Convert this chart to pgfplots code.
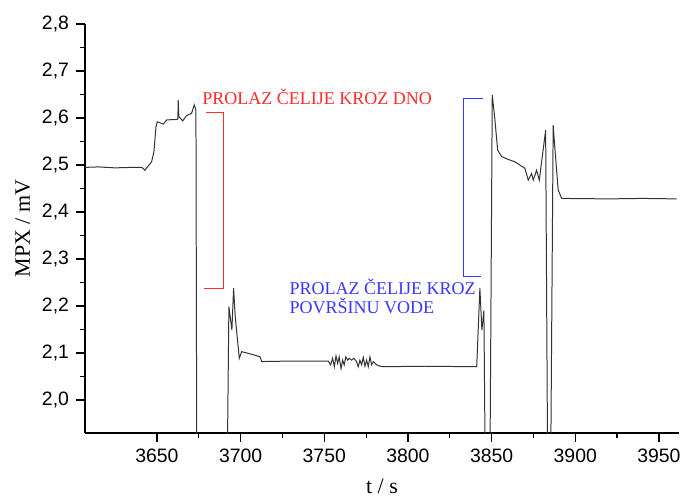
\documentclass[border=0pt]{standalone}
\usepackage{fontspec}
\setmainfont{Liberation Serif}
\setsansfont{Liberation Sans}
\usepackage{pgfplots}
\pgfplotsset{compat=1.18}
\definecolor{annred}{RGB}{255,45,45}
\definecolor{annblue}{RGB}{55,55,255}

\pgfplotstableread{
t mpx
3607.0 2.495
3615.0 2.496
3625.0 2.494
3635.0 2.495
3641.0 2.495
3642.8 2.489
3646.8 2.507
3648.2 2.528
3649.4 2.581
3650.2 2.592
3651.8 2.590
3653.8 2.587
3655.8 2.596
3661.8 2.597
3662.5 2.598
3662.7 2.638
3663.1 2.603
3665.4 2.594
3667.7 2.605
3670.7 2.610
3672.3 2.628
3673.3 2.617
3673.8 1.850
3692.0 1.850
3693.0 2.199
3694.8 2.149
3695.8 2.238
3696.8 2.177
3699.2 2.089
3700.6 2.103
3705.0 2.099
3708.0 2.096
3711.6 2.092
3712.6 2.082
3730.0 2.083
3752.4 2.083
3753.8 2.075
3755.0 2.089
3756.0 2.071
3757.0 2.094
3758.0 2.078
3758.9 2.092
3760.0 2.067
3761.0 2.085
3761.9 2.075
3762.9 2.092
3764.0 2.085
3764.9 2.089
3766.3 2.085
3767.7 2.089
3769.3 2.082
3770.3 2.071
3771.3 2.085
3772.3 2.075
3773.3 2.091
3774.3 2.072
3775.3 2.085
3776.3 2.071
3777.3 2.092
3778.3 2.075
3779.3 2.082
3781.3 2.075
3784.3 2.071
3810.0 2.072
3841.1 2.071
3843.0 2.238
3844.2 2.149
3845.4 2.191
3846.2 1.850
3849.0 1.850
3850.4 2.649
3852.0 2.596
3853.6 2.532
3856.0 2.518
3859.9 2.512
3863.9 2.507
3866.9 2.500
3869.9 2.493
3871.9 2.468
3873.9 2.482
3874.9 2.468
3876.9 2.489
3878.5 2.468
3882.3 2.574
3883.5 1.850
3885.3 1.850
3886.8 2.585
3887.9 2.532
3889.8 2.447
3891.9 2.429
3920.0 2.428
3940.0 2.429
3960.6 2.428
}\mpxdata

\begin{document}
\begin{tikzpicture}
\useasboundingbox (-42.5bp,-31.5bp) rectangle (298.5bp,216.5bp);
\begin{axis}[
  at={(0,0)}, anchor=south west,
  scale only axis, width=297bp, height=204.5bp,
  xmin=3607, xmax=3962, ymin=1.93, ymax=2.8,
  axis x line*=bottom, axis y line*=left,
  axis line style={line width=0.8pt, -},
  xtick={3650,3700,...,3950},
  ytick={2.0,2.1,2.2,2.3,2.4,2.5,2.6,2.7,2.8},
  minor x tick num=1, minor y tick num=1,
  tick align=outside, major tick length=4.5bp, minor tick length=2.5bp,
  tick style={line width=0.6pt, black},
  /pgf/number format/assume math mode=true,
  ticklabel style={font=\sffamily\fontsize{9.7bp}{11bp}\selectfont},
  yticklabel style={/pgf/number format/.cd, fixed, fixed zerofill, precision=1, use comma},
  xticklabel style={/pgf/number format/1000 sep={}},
  xlabel={t / s}, ylabel={MPX / mV},
  label style={font=\fontsize{11bp}{13bp}\selectfont},
  xlabel style={at={(axis description cs:0.5,-0.147)}, anchor=base},
  ylabel style={at={(axis description cs:-0.0926,0.5)}, anchor=base, rotate=0},
]
\addplot[black!80, line width=0.5pt] table[x=t, y=mpx] {\mpxdata};

\draw[annred, line width=0.5pt] (axis cs:3679.3,2.611) -- (axis cs:3689.6,2.611)
  -- (axis cs:3689.6,2.2377) -- (axis cs:3678.1,2.2377);
\draw[annblue, line width=0.5pt] (axis cs:3844.6,2.642) -- (axis cs:3833.0,2.642)
  -- (axis cs:3833.0,2.262) -- (axis cs:3843.6,2.262);

\node[annred, anchor=base west, inner sep=0pt, font=\fontsize{9bp}{11bp}\selectfont]
  at (axis cs:3676.9,2.628) {PROLAZ ČELIJE KROZ DNO};
\node[annblue, anchor=base west, inner sep=0pt, font=\fontsize{9bp}{11bp}\selectfont]
  at (axis cs:3729.1,2.2249) {PROLAZ ČELIJE KROZ};
\node[annblue, anchor=base west, inner sep=0pt, font=\fontsize{9bp}{11bp}\selectfont]
  at (axis cs:3729.1,2.1845) {POVRŠINU VODE};
\end{axis}
\end{tikzpicture}
\end{document}
